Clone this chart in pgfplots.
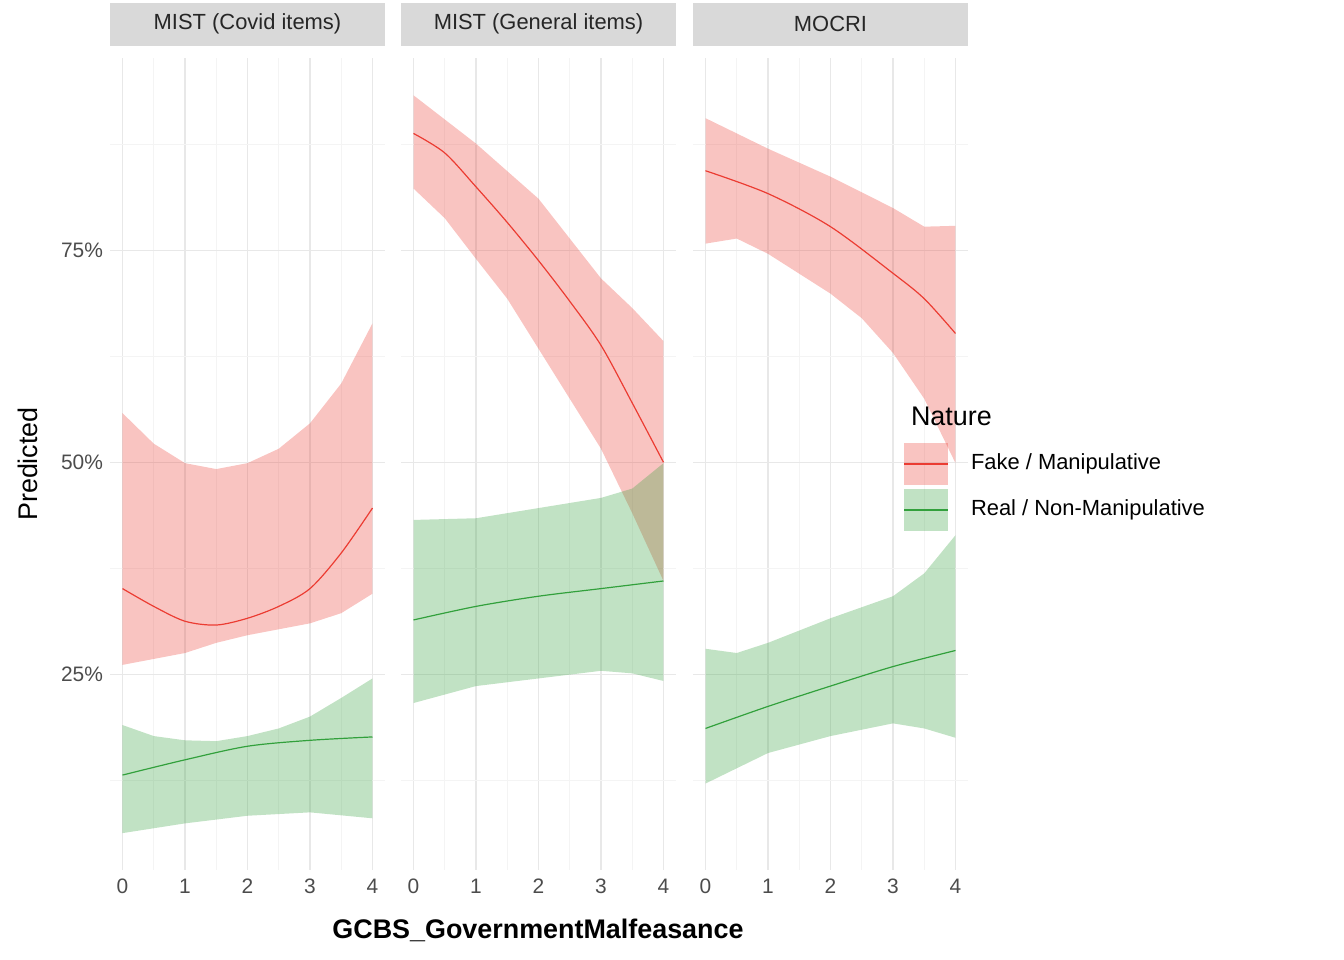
\documentclass[border=0pt]{standalone}
\usepackage{pgfplots}
\pgfplotsset{compat=1.18}
\usepackage{fontspec}
\setmainfont{Liberation Sans}
\definecolor{redc}{RGB}{235,60,50}
\definecolor{greenc}{RGB}{50,160,60}
\definecolor{strip}{RGB}{217,217,217}
\pgfplotsset{
 panel/.style={scale only axis, width=137.5bp, height=406bp, anchor=south west,
  xmin=-0.2, xmax=4.2, ymin=1.9, ymax=97.7,
  axis line style={draw=none}, major tick style={draw=none}, minor tick style={draw=none},
  xtick={0,1,2,3,4}, minor xtick={0.5,1.5,2.5,3.5},
  ytick={25,50,75}, minor ytick={12.5,37.5,62.5,87.5},
  grid=both, major grid style={gray!18, line width=0.6bp}, minor grid style={gray!9, line width=0.4bp},
  ticklabel style={font=\fontsize{10.5}{12}\selectfont, text=black!70},
  xticklabel style={yshift=-1bp},
  /pgf/number format/assume math mode=true,
  title style={at={(0.5,1)}, anchor=south, fill=strip, minimum width=137.5bp, minimum height=21.5bp, inner sep=0pt, font=\fontsize{11}{13}\selectfont, text=black!85, yshift=0bp},
 },
 rib/.style={draw=none, fill opacity=0.3},
}
\begin{document}
\begin{tikzpicture}
\useasboundingbox (-55bp,-45bp) rectangle (617bp,435bp);
% Panel 1
\begin{axis}[panel, at={(0,0)}, title={MIST (Covid items)}, yticklabels={25\%,50\%,75\%}]
\addplot[rib, fill=redc] coordinates {(0,55.8)(0.5,52.2)(1,49.9)(1.5,49.2)(2,49.9)(2.5,51.6)(3,54.6)(3.5,59.3)(4,66.4)
 (4,34.5)(3.5,32.2)(3,31)(2,29.6)(1.5,28.7)(1,27.5)(0,26.1)};
\addplot[rib, fill=greenc] coordinates {(0,19)(0.5,17.7)(1,17.2)(1.5,17.1)(2,17.7)(2.5,18.6)(3,20.0)(3.5,22.2)(4,24.5)
 (4,8.0)(3,8.7)(2,8.3)(1,7.4)(0,6.25)};
\addplot[redc, smooth, line width=0.6bp] coordinates {(0,35.1)(0.5,33)(1,31.25)(1.5,30.8)(2,31.6)(2.5,33)(3,35.1)(3.5,39.3)(4,44.6)};
\addplot[greenc, smooth, line width=0.6bp] coordinates {(0,13.1)(1,14.9)(2,16.5)(3,17.2)(4,17.6)};
\end{axis}
% Panel 2
\begin{axis}[panel, at={(145.5bp,0)}, title={MIST (General items)}, yticklabels={}]
\addplot[rib, fill=redc] coordinates {(0,93.3)(1,87.6)(2,81.1)(2.5,76.4)(3,71.7)(3.5,68.2)(4,64.3)
 (4,36)(3.5,44)(3,51.6)(2.5,57.5)(2,63.4)(1.5,69.3)(1,74)(0.5,78.8)(0,82.3)};
\addplot[rib, fill=greenc] coordinates {(0,43.2)(1,43.4)(2,44.6)(3,45.8)(3.5,46.9)(4,49.9)
 (4,24.2)(3.5,25.1)(3,25.4)(2,24.5)(1,23.6)(0,21.6)};
\addplot[redc, smooth, line width=0.6bp] coordinates {(0,88.8)(0.5,86.5)(1,82.5)(1.5,78.3)(2,73.8)(2.5,69)(3,63.8)(3.5,57)(4,50)};
\addplot[greenc, smooth, line width=0.6bp] coordinates {(0,31.4)(1,33)(2,34.2)(3,35.1)(4,36)};
\end{axis}
% Panel 3
\begin{axis}[panel, at={(291.5bp,0)}, title={MOCRI}, yticklabels={}]
\addplot[rib, fill=redc] coordinates {(0,90.6)(1,87)(2,83.7)(3,80)(3.5,77.8)(4,77.9)
 (4,49.9)(3.5,57.5)(3,62.9)(2.5,67)(2,69.9)(1,74.6)(0.5,76.4)(0,75.8)};
\addplot[rib, fill=greenc] coordinates {(0,28)(0.5,27.5)(1,28.7)(2,31.6)(3,34.2)(3.5,36.9)(4,41.4)
 (4,17.5)(3.5,18.6)(3,19.2)(2,17.7)(1,15.7)(0.5,13.9)(0,12.1)};
\addplot[redc, smooth, line width=0.6bp] coordinates {(0,84.4)(1,81.7)(2,77.8)(3,72.3)(3.5,69.3)(4,65.2)};
\addplot[greenc, smooth, line width=0.6bp] coordinates {(0,18.6)(1,21.2)(2,23.6)(3,25.9)(4,27.8)};
\end{axis}
% axis titles
\node[font=\bfseries\fontsize{13.5}{15}\selectfont] at (214bp,-30bp) {GCBS\_GovernmentMalfeasance};
\node[rotate=90, font=\fontsize{13.5}{15}\selectfont] at (-41bp,203bp) {Predicted};
% legend
\node[anchor=west, font=\fontsize{13.5}{15}\selectfont] at (397bp,227bp) {Nature};
\fill[redc, opacity=0.3] (397bp,192.5bp) rectangle (419bp,213.5bp);
\draw[redc, line width=0.6bp] (397bp,203bp) -- (419bp,203bp);
\node[anchor=west, font=\fontsize{11}{13}\selectfont] at (427bp,203bp) {Fake / Manipulative};
\fill[greenc, opacity=0.3] (397bp,169.5bp) rectangle (419bp,190.5bp);
\draw[greenc, line width=0.6bp] (397bp,180bp) -- (419bp,180bp);
\node[anchor=west, font=\fontsize{11}{13}\selectfont] at (427bp,180bp) {Real / Non-Manipulative};
\end{tikzpicture}
\end{document}
